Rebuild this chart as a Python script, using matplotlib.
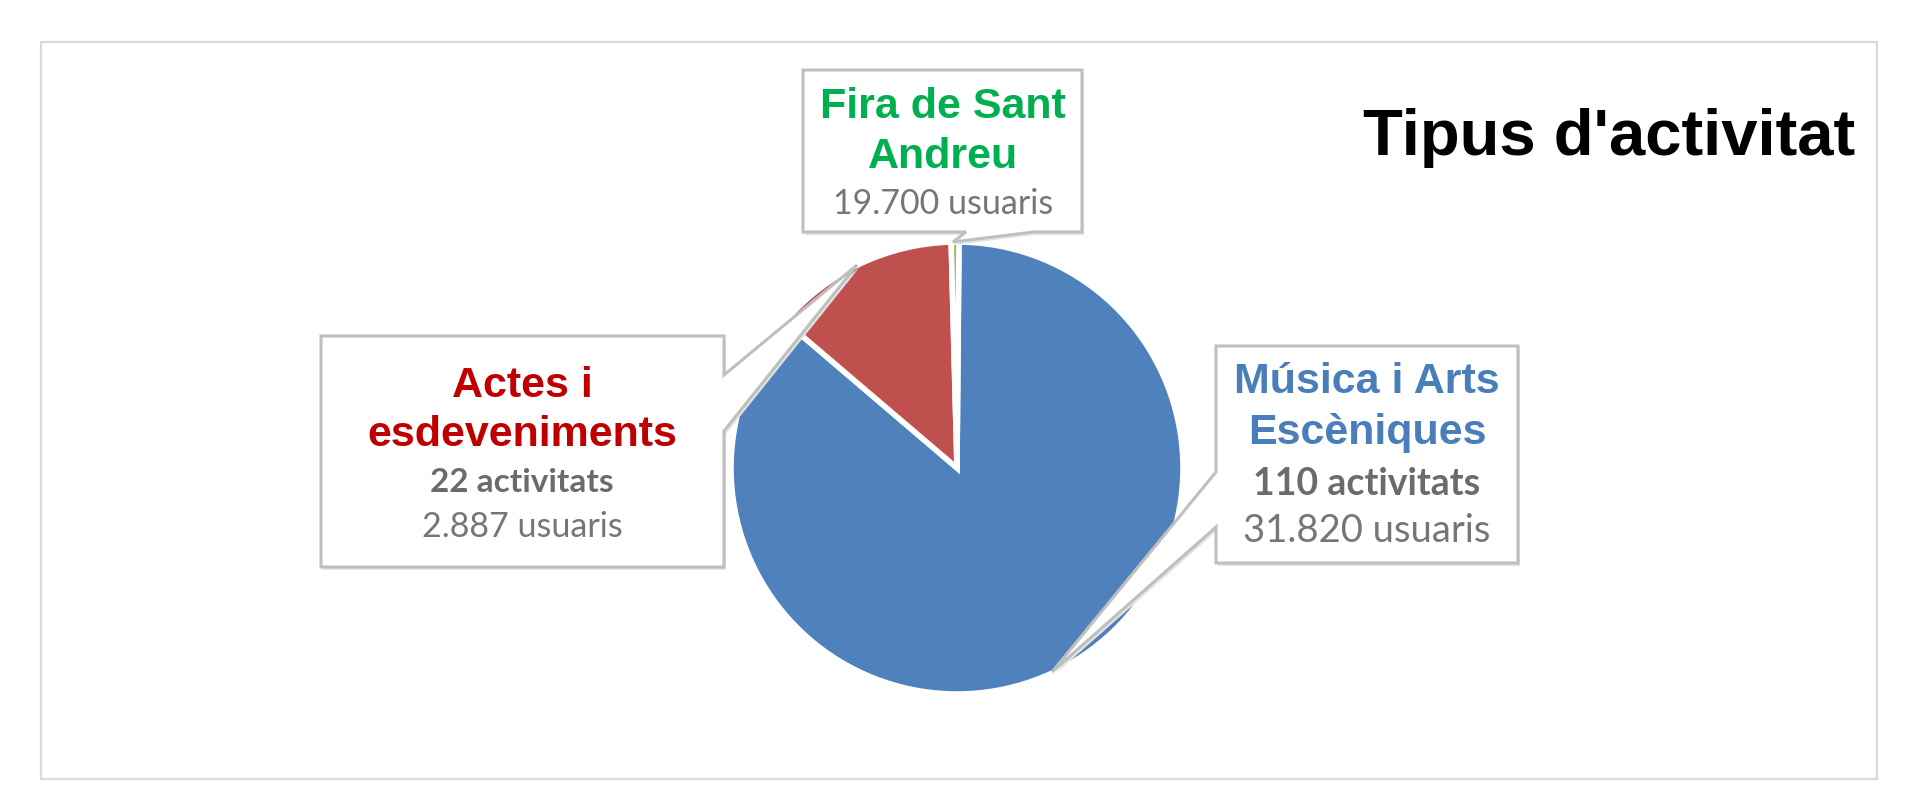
import matplotlib
matplotlib.use('Agg')
import matplotlib.pyplot as plt
from matplotlib.patches import Polygon, Rectangle

W, H = 1915, 808

# slices, clockwise from 12 o'clock
categories = ['Música i Arts\nEscèniques', 'Actes i\nesdeveniments', 'Fira de Sant\nAndreu']
shares = [86.1, 13.35, 0.55]          # percent
activities = ['110 activitats', '22 activitats', '']
users = ['31.820 usuaris', '2.887 usuaris', '19.700 usuaris']
title = "Tipus d'activitat"

slice_colors = ['#4F81BD', '#C0504D', '#9BBB59']
label_colors = ['#4A7EBB', '#C00000', '#00B050']
grey_bold = '#6B6B6B'
grey = '#767676'

fig = plt.figure(figsize=(W / 100, H / 100), dpi=100)
ax = fig.add_axes([0, 0, 1, 1])

# y axis runs downwards (pixel layout), so clockwise on screen = counterclock in data
ax.pie(shares, colors=slice_colors, center=(957, 468), radius=226,
       startangle=-89.5, counterclock=True,
       wedgeprops=dict(edgecolor='white', linewidth=4))

ax.set_xlim(0, W)
ax.set_ylim(H, 0)
ax.set_aspect('equal')
ax.axis('off')

# outer chart frame
ax.add_patch(Rectangle((41, 42), 1836, 737, fill=False, edgecolor='#D9D9D9', lw=1.6, zorder=1))

# callout shapes: box with a pointer to its slice
callouts = [
    [(1216, 346), (1518, 346), (1518, 563), (1216, 563), (1216, 527), (1052, 672), (1216, 472)],
    [(321, 336), (724, 336), (724, 375), (857, 265), (724, 431), (724, 567), (321, 567)],
    [(803, 70), (1082, 70), (1082, 232), (1033, 232), (953, 242), (966, 232), (803, 232)],
]
for pts in callouts:
    shadow = [(x + 2, y + 3) for x, y in pts]
    ax.add_patch(Polygon(shadow, closed=True, facecolor='#E4E4E4', edgecolor='none', zorder=4))
    ax.add_patch(Polygon(pts, closed=True, facecolor='white', edgecolor='#BFBFBF',
                         lw=2.2, joinstyle='miter', zorder=5))

# label text: centre x, baselines of each line, size of the grey lines
label_x = [1367, 522, 943]
name_y = [(393, 444), (397, 446), (118, 168)]
act_y = [495, 492, None]
user_y = [542, 537, 214]
sub_size = [27.5, 24.5, 24.5]

for i in range(3):
    for line, y in zip(categories[i].split('\n'), name_y[i]):
        ax.text(label_x[i], y, line, ha='center', va='baseline', fontsize=31,
                fontweight='bold', family='Liberation Sans', color=label_colors[i], zorder=6)
    if activities[i]:
        ax.text(label_x[i], act_y[i], activities[i], ha='center', va='baseline',
                fontsize=sub_size[i] - 0.5, fontweight='bold', family='Lato',
                color=grey_bold, zorder=6)
    ax.text(label_x[i], user_y[i], users[i], ha='center', va='baseline', fontsize=sub_size[i],
            family='Lato', color=grey, zorder=6)

ax.text(1855, 155, title, ha='right', va='baseline', fontsize=47, fontweight='bold',
        family='Liberation Sans', color='black')

fig.savefig('out.png', dpi=100)
